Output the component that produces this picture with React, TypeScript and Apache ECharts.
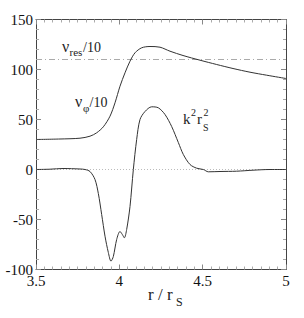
import React, { useEffect, useRef } from "react";
import * as echarts from "echarts";

const vPhiR = [3.5, 3.644, 3.764, 3.824, 3.864, 3.904, 3.944, 3.974, 4.004, 4.034, 4.064, 4.094, 4.134, 4.184, 4.244, 4.304, 4.382, 4.484, 4.584, 4.682, 4.784, 4.884, 5.0];
const vPhi = [30, 30.5, 31.3, 33.3, 36.7, 42.7, 53.3, 66.7, 83.3, 96.7, 108.3, 116.7, 121.7, 123, 122.3, 118.3, 114, 109.3, 105, 101, 97.3, 94.3, 91];

const kR = [3.5, 3.584, 3.662, 3.764, 3.794, 3.824, 3.854, 3.874, 3.894, 3.914, 3.934, 3.95, 3.964, 3.984, 4.004, 4.018, 4.03, 4.044, 4.064, 4.084, 4.104, 4.124, 4.154, 4.194, 4.234, 4.274, 4.314, 4.354, 4.384, 4.424, 4.464, 4.504, 4.534, 4.604, 4.704, 4.802, 4.904, 5.0];
const kVal = [0, 0.3, 1, 0.5, 0, -2, -10, -24, -45, -66.7, -83, -91.7, -87, -70, -62, -65, -68.3, -60, -37, 0, 30, 50, 58, 62.7, 61.7, 55, 43, 27, 15, 5, 1.3, 0, -2.3, -2, -1.7, -0.7, 0, 0];

const vRes = 110;
const zeroLevel = 0;
const xRange = [3.5, 5];
const yRange = [-100, 150];

const FONT = "Liberation Serif, Times New Roman, DejaVu Serif, serif";

export default function App() {
  const ref = useRef<HTMLDivElement>(null);
  useEffect(() => {
    document.body.style.margin = "0";
    const chart = echarts.init(ref.current!, null, { renderer: "svg" });
    const axisCommon = {
      type: "value",
      axisLine: { show: true, onZero: false, lineStyle: { color: "#444", width: 1 } },
      axisTick: { show: true, inside: true, length: 5, lineStyle: { color: "#888" } },
      minorTick: { show: true, splitNumber: 10, length: 3, lineStyle: { color: "#aaa" } },
      splitLine: { show: false },
    };
    const xBase = { ...axisCommon, min: xRange[0], max: xRange[1], interval: 0.5 };
    const yBase = { ...axisCommon, min: yRange[0], max: yRange[1], interval: 50, minorTick: { ...axisCommon.minorTick, splitNumber: 5 } };
    const txt = (text: string, x: number, y: number, size: number) => ({
      type: "text",
      x,
      y,
      style: { text, fontSize: size, fontFamily: FONT, fill: "#222", verticalAlign: "bottom" },
    });
    chart.setOption({
      animation: false,
      textStyle: { fontFamily: FONT },
      grid: { left: 36, right: 18, top: 19.5, bottom: 48.5 },
      xAxis: [
        {
          ...xBase,
          position: "bottom",
          axisLabel: { fontFamily: FONT, fontSize: 15, color: "#111", margin: 4, formatter: (v: number) => String(v) },
        },
        { ...xBase, position: "top", axisLabel: { show: false } },
      ],
      yAxis: [
        {
          ...yBase,
          position: "left",
          axisLabel: { fontFamily: FONT, fontSize: 15, color: "#111", margin: 3 },
        },
        { ...yBase, position: "right", axisLabel: { show: false } },
      ],
      series: [
        {
          type: "line",
          data: [[xRange[0], zeroLevel], [xRange[1], zeroLevel]],
          symbol: "none",
          lineStyle: { color: "#bbb", width: 1, type: [1, 2] },
        },
        {
          type: "line",
          data: [[xRange[0], vRes], [xRange[1], vRes]],
          symbol: "none",
          lineStyle: { color: "#aaa", width: 1, type: [6, 3, 1, 3] },
        },
        {
          type: "line",
          data: vPhiR.map((r, i) => [r, vPhi[i]]),
          symbol: "none",
          smooth: 0.3,
          lineStyle: { color: "#333", width: 1 },
        },
        {
          type: "line",
          data: kR.map((r, i) => [r, kVal[i]]),
          symbol: "none",
          smooth: 0.3,
          lineStyle: { color: "#333", width: 1 },
        },
      ],
      graphic: [
        txt("ν", 62, 54, 16),
        txt("res", 69.5, 57, 11),
        txt("/10", 83, 54, 14),
        txt("ν", 75, 109, 16),
        txt("φ", 83, 113, 11),
        txt("/10", 89.5, 109, 14),
        txt("k", 183, 126, 15),
        txt("2", 191, 117, 10),
        txt("r", 197, 126, 15),
        txt("S", 203, 132, 10),
        txt("2", 203.5, 117, 10),
        txt("r / r", 148, 303, 17),
        txt("S", 176, 308, 12),
      ],
    });
    return () => chart.dispose();
  }, []);
  return <div ref={ref} style={{ width: 304, height: 318 }} />;
}
